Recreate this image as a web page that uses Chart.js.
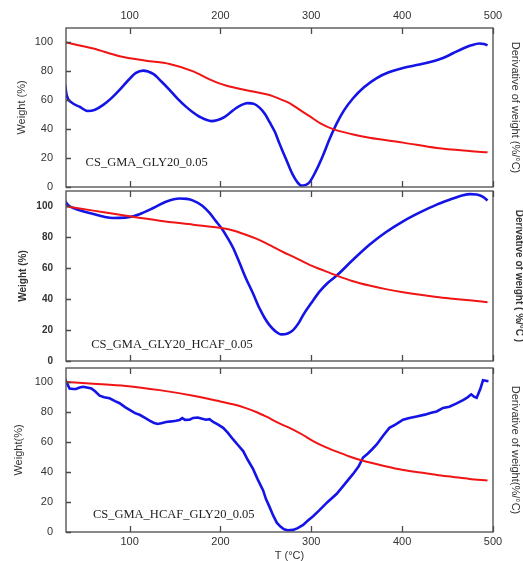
<!DOCTYPE html>
<html><head><meta charset="utf-8">
<script src="https://cdn.jsdelivr.net/npm/chart.js@4.4.1/dist/chart.umd.min.js"></script>
<style>
html,body{margin:0;padding:0;background:#fff;}
#wrap{position:relative;width:523px;height:561px;overflow:hidden;}
canvas{position:absolute;left:0;top:0;}
</style></head><body>
<div id="wrap">
<canvas id="c1" width="523" height="561"></canvas>
<canvas id="c2" width="523" height="561"></canvas>
<canvas id="c3" width="523" height="561"></canvas>
</div>
<script>
// ---- tick labels ----
const xTicks = [100, 200, 300, 400, 500];
const yTicks = [0, 20, 40, 60, 80, 100];

// ---- panel 1: CS_GMA_GLY20_0.05 ----
const p1RedT = [30,60,89,118,144,170,188,206,236,254,265,276,287,298,310,324,345,364,401,438,474,494];
const p1RedW = [100,95.8,90.5,87.4,85.1,80,74.5,70.2,66,63.7,61,58,53.5,49,44,40,36.5,34,30.7,27,24.9,24];
const p1BlueT = [29,31,36,45,54,62,71,80,89,98,107,115,126,135,144,153,162,170,177,190,203,210,217,224,230,237,243,249,254,260,265,270,275,280,285,289,294,298,305,313,320,328,336,346,358,372,386,401,419,432,445,456,467,476,485,490,494];
const p1BlueD = [70.7,63,58.5,55.5,52.6,53.5,56.8,61.5,67.2,73.5,78.9,80.5,78.2,73,67.2,61,55.6,51.5,48.6,45.6,47.9,51,54.5,57,58,57.5,54.9,50.5,45,38,30,22.5,15,8,3,1,1.5,3.3,11,22,33,44,53,61.4,69,75.4,79.5,82.4,84.7,86.7,89.3,92.5,95.8,98,99.3,99,98];

// ---- panel 2: CS_GMA_GLY20_HCAF_0.05 ----
const p2RedT = [30,60,100,133,170,201,215,228,240,250,260,270,280,298,310,328,345,364,382,401,420,438,456,474,494];
const p2RedW = [100.1,97.3,93.6,90.8,88.2,86,84.3,81.7,79,76.3,73.2,70.2,67.5,62.2,59.4,55.3,51.8,48.8,46.5,44.5,42.8,41.4,40.3,39.3,38];
const p2BlueT = [28,30,34,45,60,72,82,95,104,115,126,140,155,163,170,180,188,195,201,208,214,221,228,236,243,249,254,260,267,274,280,286,291,300,309,318,328,345,364,382,401,419,438,452,467,475,482,489,494];
const p2BlueD = [104.5,102.5,100.1,97.5,95.1,93.3,92.5,92.8,93.6,96,99,103,105.1,104.9,103.8,100.5,95.8,90.5,86,79.5,73.1,63.5,53.6,43.5,34.1,27.5,23.2,19.5,17.2,17.8,20,24.5,29.7,37.5,44.9,50.5,55.3,65,75.2,83.3,90.4,96,101.2,104.3,107.3,108,107.7,106.2,103.8];

// ---- panel 3: CS_GMA_HCAF_GLY20_0.05 ----
const p3RedT = [30,60,96,133,170,201,215,228,240,250,265,276,290,302,315,328,342,357,380,401,420,438,456,474,494];
const p3RedW = [99.7,98.6,97.1,94.3,90.6,86.6,84.7,82.3,79.6,76.8,72.2,69.2,64.8,60.4,56.6,53.4,50.2,47.3,43.9,41.2,39.5,37.9,36.6,35.3,34.2];
const p3BlueT = [29,31,34,38,41,45,49,53,58,62,67,72,78,84,89,95,100,106,111,117,122,127,131,136,140,146,151,155,158,161,166,170,175,180,184,188,192,197,203,208,214,219,225,230,236,241,247,250,254,258,262,266,270,274,280,285,291,296,302,309,318,328,337,346,352,357,362,367,372,379,386,393,401,408,416,425,432,438,445,452,460,467,472,476,479,482,486,489,492,495];
const p3BlueD = [101.5,99,95.4,95,95,96,96.5,96,95.4,93.5,90.6,89.5,88.9,87,85.6,83,81.2,79,77.9,75.8,74,72.5,71.8,72.5,73.1,73.5,74,74.5,75.7,74.5,74.6,75.8,76.1,75.2,74.6,75,73.1,71.5,69.2,66,61.5,58,53.8,48,41.8,35,27.6,22,16.7,11,6.2,3.6,1.8,1.2,1.4,2.6,4.7,7.5,10.5,14.5,20,25.4,32,38.6,43.5,49.5,52,55,58.2,64,69.2,71.5,74.6,75.8,76.8,78,79.3,80.1,82.5,83.3,85.5,87.7,89.5,91.5,90,89.2,95,100.8,100.5,100.2];

const RED = '#f01414', BLUE = '#1414e6', INK = '#333333', FRAME = '#4a4a4a';
const SANS = 'Liberation Sans, Arial, sans-serif';
const SERIF = 'Liberation Serif, Times New Roman, serif';

function pts(xs, ys) { return xs.map((x, i) => ({x: x, y: ys[i]})); }

const framePlugin = {
  id: 'frame',
  afterDatasetsDraw(chart, args, opts) {
    const {ctx, chartArea: a, scales} = chart;
    ctx.save();
    ctx.strokeStyle = FRAME;
    ctx.lineWidth = 1.3;
    ctx.strokeRect(a.left, a.top, a.right - a.left, a.bottom - a.top);
    // inward ticks
    ctx.beginPath();
    xTicks.forEach(v => {
      const px = Math.round(scales.x.getPixelForValue(v)) + 0.5;
      ctx.moveTo(px, a.top); ctx.lineTo(px, a.top + 6);
      ctx.moveTo(px, a.bottom); ctx.lineTo(px, a.bottom - 6);
    });
    yTicks.forEach(v => {
      const py = Math.round(scales.y.getPixelForValue(v)) + 0.5;
      ctx.moveTo(a.left, py); ctx.lineTo(a.left + 5, py);
    });
    ctx.stroke();
    // sample label
    if (opts.text) {
      ctx.fillStyle = '#222';
      ctx.font = '12.5px ' + SERIF;
      ctx.textAlign = 'left';
      ctx.textBaseline = 'middle';
      ctx.fillText(opts.text, scales.x.getPixelForValue(opts.at[0]), scales.y.getPixelForValue(opts.at[1]));
    }
    if (opts.xTitle) {
      ctx.fillStyle = INK;
      ctx.font = '11px ' + SANS;
      ctx.textAlign = 'center';
      ctx.textBaseline = 'middle';
      ctx.fillText(opts.xTitle, (a.left + a.right) / 2 + 10, 556);
    }
    ctx.restore();
  }
};

function makePanel(id, p) {
  const tickFont = {family: SANS, size: p.bold ? 10 : 11, weight: p.bold ? 'bold' : 'normal'};
  new Chart(document.getElementById(id), {
    type: 'line',
    data: {
      datasets: [
        {label: 'Weight', data: pts(p.redT, p.redW), borderColor: RED, borderWidth: 2,
         pointRadius: 0, cubicInterpolationMode: 'monotone', yAxisID: 'y'},
        {label: 'Derivative', data: pts(p.blueT, p.blueD), borderColor: BLUE, borderWidth: 2.6,
         pointRadius: 0, cubicInterpolationMode: p.noisy ? 'default' : 'monotone', tension: p.noisy ? 0 : 0.4, yAxisID: 'y2'}
      ]
    },
    options: {
      responsive: false, animation: false, events: [],
      layout: {padding: {top: p.padTop, bottom: p.padBottom, left: 0, right: 0}},
      plugins: {legend: {display: false}, tooltip: {enabled: false},
        frame: {text: p.label, at: p.labelAt, xTitle: p.xTitle}},
      scales: {
        x: {
          type: 'linear', min: 30, max: 500, position: p.xPos, display: p.xShow,
          afterBuildTicks: s => { s.ticks = xTicks.map(v => ({value: v})); },
          afterFit: s => { s.height = p.xHeight; },
          grid: {display: false, drawTicks: false}, border: {display: false},
          ticks: {font: tickFont, color: INK, padding: p.xPad, maxRotation: 0, autoSkip: false}
        },
        y: {
          type: 'linear', min: 0, max: p.yMax, position: 'left',
          afterBuildTicks: s => { s.ticks = yTicks.map(v => ({value: v})); },
          afterFit: s => { s.width = 66; },
          grid: {display: false, drawTicks: false}, border: {display: false},
          ticks: {font: tickFont, color: INK, padding: 13},
          title: {display: true, text: p.yTitle, color: INK, font: tickFont, padding: {top: p.yTitlePad, bottom: 0}}
        },
        y2: {
          type: 'linear', min: 0, max: p.yMax, position: 'right',
          afterFit: s => { s.width = 30; },
          grid: {display: false, drawTicks: false}, border: {display: false},
          ticks: {display: false},
          title: {display: true, text: p.y2Title, color: INK, font: tickFont, padding: {top: p.y2TitlePad, bottom: 0}}
        }
      }
    },
    plugins: [framePlugin]
  });
}

makePanel('c1', {redT: p1RedT, redW: p1RedW, blueT: p1BlueT, blueD: p1BlueD,
  padTop: 0, padBottom: 374, xPos: 'top', xShow: true, xHeight: 28, xPad: 5, yMax: 110,
  yTitle: 'Weight (%)', yTitlePad: 15, y2Title: 'Derivative of weight (%/°C)', y2TitlePad: 1,
  label: 'CS_GMA_GLY20_0.05', labelAt: [51.6, 17]});
makePanel('c2', {redT: p2RedT, redW: p2RedW, blueT: p2BlueT, blueD: p2BlueD, bold: true,
  padTop: 191, padBottom: 200, xPos: 'bottom', xShow: false, xHeight: 0, xPad: 0, yMax: 110,
  yTitle: 'Weight (%)', yTitlePad: 17, y2Title: 'Derivative of weight ( %/°C )', y2TitlePad: -2,
  label: 'CS_GMA_GLY20_HCAF_0.05', labelAt: [57.8, 10.6]});
makePanel('c3', {redT: p3RedT, redW: p3RedW, blueT: p3BlueT, blueD: p3BlueD, noisy: true,
  padTop: 368, padBottom: 0, xPos: 'bottom', xShow: true, xHeight: 29, xPad: 3, yMax: 109,
  yTitle: 'Weight(%)', yTitlePad: 12, y2Title: 'Derivative of weight(%/°C)', y2TitlePad: 1,
  label: 'CS_GMA_HCAF_GLY20_0.05', labelAt: [59.6, 11.3], xTitle: 'T (°C)'});
</script>
</body></html>
